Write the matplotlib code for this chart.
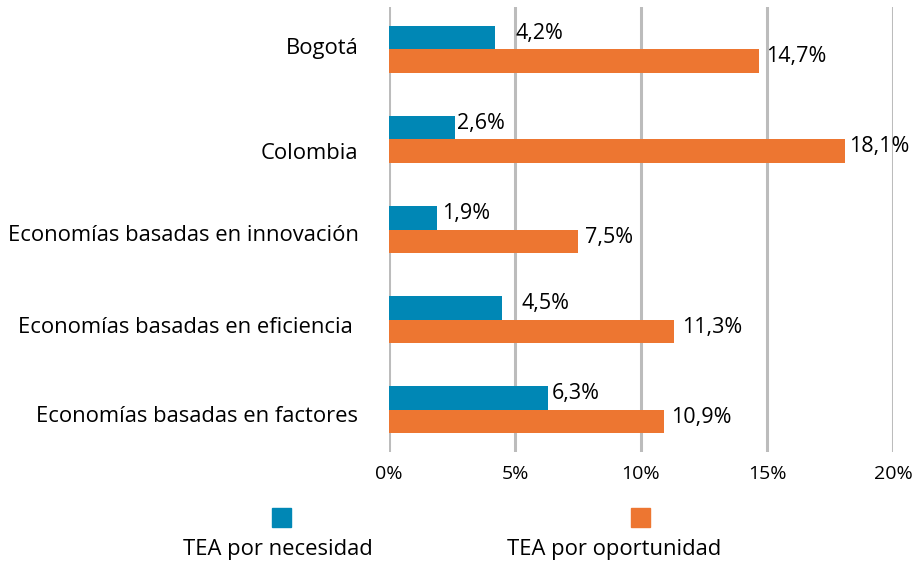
import numpy as np
import matplotlib.pyplot as plt
from matplotlib.patches import Rectangle

plt.rcParams['font.family'] = ['Open Sans', 'DejaVu Sans']

# datos (TEA, %)
categorias = ['Bogotá', 'Colombia', 'Economías basadas en innovación',
              'Economías basadas en eficiencia ', 'Economías basadas en factores']
necesidad = [4.2, 2.6, 1.9, 4.5, 6.3]
oportunidad = [14.7, 18.1, 7.5, 11.3, 10.9]
series = ['TEA por necesidad', 'TEA por oportunidad']
ticks = [0, 5, 10, 15, 20]

azul = '#0087b5'
naranja = '#ed7631'
gris = '#bcbcbc'

# desplazamiento de etiquetas (pt) para no pisar las lineas de la grilla
off_nec = [15, 2, 4, 14, 3]
off_opo = [5, 3, 5, 6, 5]
# linea base de las categorias bajo el centro del grupo (px)
base_cat = [5, 20, 11.5, 13.5, 12]

fig = plt.figure(figsize=(9.22, 5.63), dpi=100)
ax = fig.add_axes([0.4219, 0.197, 0.5466, 0.7906])

y = np.arange(len(categorias))
h = 0.26
ax.barh(y - h / 2, necesidad, height=h, color=azul, zorder=3)
ax.barh(y + h / 2, oportunidad, height=h, color=naranja, zorder=3)

for i in range(len(categorias)):
    ax.annotate(f'{necesidad[i]:.1f}%'.replace('.', ','), (necesidad[i], y[i] - h / 2),
                xytext=(off_nec[i], 3), textcoords='offset points',
                va='center', ha='left', fontsize=15.5)
    ax.annotate(f'{oportunidad[i]:.1f}%'.replace('.', ','), (oportunidad[i], y[i] + h / 2),
                xytext=(off_opo[i], 3), textcoords='offset points',
                va='center', ha='left', fontsize=15.5)
    ax.annotate(categorias[i], (0, y[i]), xycoords=ax.get_yaxis_transform(),
                xytext=(-22, -base_cat[i] * 0.72), textcoords='offset points',
                va='baseline', ha='right', fontsize=15.8)

ax.set_xlim(0, 20)
ax.set_ylim(len(categorias) - 0.53, -0.47)
ax.set_xticks(ticks)
ax.set_xticklabels([f'{t}%' for t in ticks], fontsize=14)
ax.set_yticks([])
ax.tick_params(axis='both', length=0)
ax.tick_params(axis='x', pad=9)
ax.grid(axis='x', color=gris, linewidth=2.2, zorder=0)
for s in ax.spines.values():
    s.set_visible(False)

# leyenda: cuadro arriba, texto abajo
for x_sq, x_txt, col, nombre in [(281, 278, azul, series[0]), (640, 614, naranja, series[1])]:
    fig.patches.append(Rectangle(((x_sq - 9.5) / 922, 1 - 527 / 563), 19 / 922, 19 / 563,
                                 transform=fig.transFigure, color=col))
    fig.text(x_txt / 922, 1 - 550 / 563, nombre, ha='center', va='center', fontsize=15.8)

fig.savefig('out.png', dpi=100)
